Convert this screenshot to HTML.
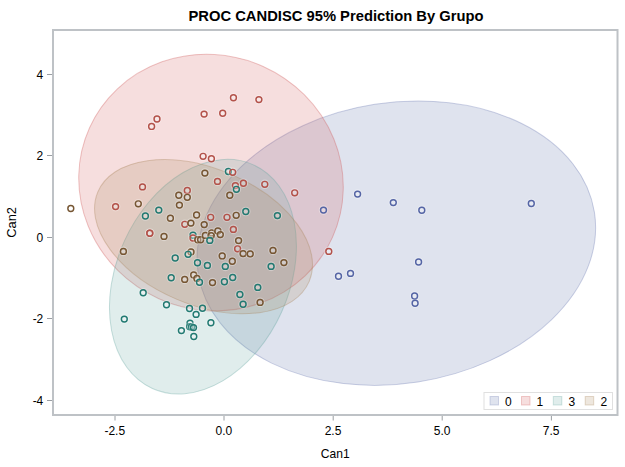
<!DOCTYPE html>
<html><head><meta charset="utf-8">
<style>
html,body{margin:0;padding:0;background:#fff;width:625px;height:467px;overflow:hidden}
svg{display:block}
text{font-family:"Liberation Sans",sans-serif;fill:#000}
</style></head><body>
<svg width="625" height="467" viewBox="0 0 625 467">
<text transform="translate(336 20.6) scale(0.958 1)" text-anchor="middle" style="font-weight:bold;font-size:15.4px">PROC CANDISC 95% Prediction By Grupo</text>
<g id="ell" stroke-width="1">
<ellipse cx="396.35" cy="243.17" rx="200.47" ry="140.48" transform="rotate(351.17 396.35 243.17)" fill="#6F7EB3" fill-opacity="0.22" stroke="#6F7EB3" stroke-opacity="0.36"/>
<ellipse cx="211.00" cy="182.56" rx="127.30" ry="133.25" transform="rotate(294.19 211.00 182.56)" fill="#D05B5B" fill-opacity="0.2" stroke="#D05B5B" stroke-opacity="0.36"/>
<ellipse cx="202.93" cy="276.68" rx="86.27" ry="122.71" transform="rotate(204.35 202.93 276.68)" fill="#66A5A0" fill-opacity="0.2" stroke="#66A5A0" stroke-opacity="0.36"/>
<ellipse cx="203.53" cy="236.65" rx="114.77" ry="68.12" transform="rotate(22.93 203.53 236.65)" fill="#A9865B" fill-opacity="0.2" stroke="#A9865B" stroke-opacity="0.36"/>
</g>
<g id="marks" fill="none" stroke-width="1.45">
<circle cx="151.6" cy="126.4" r="4.2" stroke="#fff" stroke-opacity="0.3" stroke-width="1.2"/><circle cx="151.6" cy="126.4" r="2.95" fill="#fff" fill-opacity="0.3" stroke="#b3524a"/>
<circle cx="157.0" cy="119.0" r="4.2" stroke="#fff" stroke-opacity="0.3" stroke-width="1.2"/><circle cx="157.0" cy="119.0" r="2.95" fill="#fff" fill-opacity="0.3" stroke="#b3524a"/>
<circle cx="204.1" cy="114.1" r="4.2" stroke="#fff" stroke-opacity="0.3" stroke-width="1.2"/><circle cx="204.1" cy="114.1" r="2.95" fill="#fff" fill-opacity="0.3" stroke="#b3524a"/>
<circle cx="222.7" cy="113.2" r="4.2" stroke="#fff" stroke-opacity="0.3" stroke-width="1.2"/><circle cx="222.7" cy="113.2" r="2.95" fill="#fff" fill-opacity="0.3" stroke="#b3524a"/>
<circle cx="233.45" cy="97.7" r="4.2" stroke="#fff" stroke-opacity="0.3" stroke-width="1.2"/><circle cx="233.45" cy="97.7" r="2.95" fill="#fff" fill-opacity="0.3" stroke="#b3524a"/>
<circle cx="258.9" cy="99.6" r="4.2" stroke="#fff" stroke-opacity="0.3" stroke-width="1.2"/><circle cx="258.9" cy="99.6" r="2.95" fill="#fff" fill-opacity="0.3" stroke="#b3524a"/>
<circle cx="142.5" cy="186.9" r="4.2" stroke="#fff" stroke-opacity="0.3" stroke-width="1.2"/><circle cx="142.5" cy="186.9" r="2.95" fill="#fff" fill-opacity="0.3" stroke="#b3524a"/>
<circle cx="138.3" cy="203.8" r="4.2" stroke="#fff" stroke-opacity="0.3" stroke-width="1.2"/><circle cx="138.3" cy="203.8" r="2.95" fill="#fff" fill-opacity="0.3" stroke="#765633"/>
<circle cx="115.6" cy="206.6" r="4.2" stroke="#fff" stroke-opacity="0.3" stroke-width="1.2"/><circle cx="115.6" cy="206.6" r="2.95" fill="#fff" fill-opacity="0.3" stroke="#b3524a"/>
<circle cx="70.8" cy="208.5" r="4.2" stroke="#fff" stroke-opacity="0.3" stroke-width="1.2"/><circle cx="70.8" cy="208.5" r="2.95" fill="#fff" fill-opacity="0.3" stroke="#765633"/>
<circle cx="203.1" cy="156.3" r="4.2" stroke="#fff" stroke-opacity="0.3" stroke-width="1.2"/><circle cx="203.1" cy="156.3" r="2.95" fill="#fff" fill-opacity="0.3" stroke="#b3524a"/>
<circle cx="211.4" cy="158.7" r="4.2" stroke="#fff" stroke-opacity="0.3" stroke-width="1.2"/><circle cx="211.4" cy="158.7" r="2.95" fill="#fff" fill-opacity="0.3" stroke="#b3524a"/>
<circle cx="204.9" cy="173.1" r="4.2" stroke="#fff" stroke-opacity="0.3" stroke-width="1.2"/><circle cx="204.9" cy="173.1" r="2.95" fill="#fff" fill-opacity="0.3" stroke="#765633"/>
<circle cx="228.4" cy="171.5" r="4.2" stroke="#fff" stroke-opacity="0.3" stroke-width="1.2"/><circle cx="228.4" cy="171.5" r="2.95" fill="#fff" fill-opacity="0.3" stroke="#227a72"/>
<circle cx="232.7" cy="172.3" r="4.2" stroke="#fff" stroke-opacity="0.3" stroke-width="1.2"/><circle cx="232.7" cy="172.3" r="2.95" fill="#fff" fill-opacity="0.3" stroke="#b3524a"/>
<circle cx="217.5" cy="181.4" r="4.2" stroke="#fff" stroke-opacity="0.3" stroke-width="1.2"/><circle cx="217.5" cy="181.4" r="2.95" fill="#fff" fill-opacity="0.3" stroke="#b3524a"/>
<circle cx="243.4" cy="183.2" r="4.2" stroke="#fff" stroke-opacity="0.3" stroke-width="1.2"/><circle cx="243.4" cy="183.2" r="2.95" fill="#fff" fill-opacity="0.3" stroke="#b3524a"/>
<circle cx="235.4" cy="185.6" r="4.2" stroke="#fff" stroke-opacity="0.3" stroke-width="1.2"/><circle cx="235.4" cy="185.6" r="2.95" fill="#fff" fill-opacity="0.3" stroke="#b3524a"/>
<circle cx="236.4" cy="189.3" r="4.2" stroke="#fff" stroke-opacity="0.3" stroke-width="1.2"/><circle cx="236.4" cy="189.3" r="2.95" fill="#fff" fill-opacity="0.3" stroke="#227a72"/>
<circle cx="229.8" cy="195.2" r="4.2" stroke="#fff" stroke-opacity="0.3" stroke-width="1.2"/><circle cx="229.8" cy="195.2" r="2.95" fill="#fff" fill-opacity="0.3" stroke="#765633"/>
<circle cx="187.3" cy="190.5" r="4.2" stroke="#fff" stroke-opacity="0.3" stroke-width="1.2"/><circle cx="187.3" cy="190.5" r="2.95" fill="#fff" fill-opacity="0.3" stroke="#b3524a"/>
<circle cx="178.8" cy="195.2" r="4.2" stroke="#fff" stroke-opacity="0.3" stroke-width="1.2"/><circle cx="178.8" cy="195.2" r="2.95" fill="#fff" fill-opacity="0.3" stroke="#765633"/>
<circle cx="187.3" cy="197.3" r="4.2" stroke="#fff" stroke-opacity="0.3" stroke-width="1.2"/><circle cx="187.3" cy="197.3" r="2.95" fill="#fff" fill-opacity="0.3" stroke="#765633"/>
<circle cx="264.8" cy="184.3" r="4.2" stroke="#fff" stroke-opacity="0.3" stroke-width="1.2"/><circle cx="264.8" cy="184.3" r="2.95" fill="#fff" fill-opacity="0.3" stroke="#b3524a"/>
<circle cx="294.7" cy="192.8" r="4.2" stroke="#fff" stroke-opacity="0.3" stroke-width="1.2"/><circle cx="294.7" cy="192.8" r="2.95" fill="#fff" fill-opacity="0.3" stroke="#b3524a"/>
<circle cx="323.5" cy="210.1" r="4.2" stroke="#fff" stroke-opacity="0.3" stroke-width="1.2"/><circle cx="323.5" cy="210.1" r="2.95" fill="#fff" fill-opacity="0.3" stroke="#5565a5"/>
<circle cx="357.6" cy="194.1" r="4.2" stroke="#fff" stroke-opacity="0.3" stroke-width="1.2"/><circle cx="357.6" cy="194.1" r="2.95" fill="#fff" fill-opacity="0.3" stroke="#5565a5"/>
<circle cx="393.3" cy="202.6" r="4.2" stroke="#fff" stroke-opacity="0.3" stroke-width="1.2"/><circle cx="393.3" cy="202.6" r="2.95" fill="#fff" fill-opacity="0.3" stroke="#5565a5"/>
<circle cx="421.8" cy="210.2" r="4.2" stroke="#fff" stroke-opacity="0.3" stroke-width="1.2"/><circle cx="421.8" cy="210.2" r="2.95" fill="#fff" fill-opacity="0.3" stroke="#5565a5"/>
<circle cx="531.3" cy="203.5" r="4.2" stroke="#fff" stroke-opacity="0.3" stroke-width="1.2"/><circle cx="531.3" cy="203.5" r="2.95" fill="#fff" fill-opacity="0.3" stroke="#5565a5"/>
<circle cx="338.5" cy="276.3" r="4.2" stroke="#fff" stroke-opacity="0.3" stroke-width="1.2"/><circle cx="338.5" cy="276.3" r="2.95" fill="#fff" fill-opacity="0.3" stroke="#5565a5"/>
<circle cx="350.5" cy="273.4" r="4.2" stroke="#fff" stroke-opacity="0.3" stroke-width="1.2"/><circle cx="350.5" cy="273.4" r="2.95" fill="#fff" fill-opacity="0.3" stroke="#5565a5"/>
<circle cx="418.6" cy="262.0" r="4.2" stroke="#fff" stroke-opacity="0.3" stroke-width="1.2"/><circle cx="418.6" cy="262.0" r="2.95" fill="#fff" fill-opacity="0.3" stroke="#5565a5"/>
<circle cx="414.6" cy="296.0" r="4.2" stroke="#fff" stroke-opacity="0.3" stroke-width="1.2"/><circle cx="414.6" cy="296.0" r="2.95" fill="#fff" fill-opacity="0.3" stroke="#5565a5"/>
<circle cx="415.1" cy="303.2" r="4.2" stroke="#fff" stroke-opacity="0.3" stroke-width="1.2"/><circle cx="415.1" cy="303.2" r="2.95" fill="#fff" fill-opacity="0.3" stroke="#5565a5"/>
<circle cx="328.8" cy="251.4" r="4.2" stroke="#fff" stroke-opacity="0.3" stroke-width="1.2"/><circle cx="328.8" cy="251.4" r="2.95" fill="#fff" fill-opacity="0.3" stroke="#b3524a"/>
<circle cx="158.8" cy="210.1" r="4.2" stroke="#fff" stroke-opacity="0.3" stroke-width="1.2"/><circle cx="158.8" cy="210.1" r="2.95" fill="#fff" fill-opacity="0.3" stroke="#227a72"/>
<circle cx="145.4" cy="216.0" r="4.2" stroke="#fff" stroke-opacity="0.3" stroke-width="1.2"/><circle cx="145.4" cy="216.0" r="2.95" fill="#fff" fill-opacity="0.3" stroke="#227a72"/>
<circle cx="170.4" cy="218.2" r="4.2" stroke="#fff" stroke-opacity="0.3" stroke-width="1.2"/><circle cx="170.4" cy="218.2" r="2.95" fill="#fff" fill-opacity="0.3" stroke="#765633"/>
<circle cx="179.4" cy="205.1" r="4.2" stroke="#fff" stroke-opacity="0.3" stroke-width="1.2"/><circle cx="179.4" cy="205.1" r="2.95" fill="#fff" fill-opacity="0.3" stroke="#765633"/>
<circle cx="149.8" cy="233.2" r="4.2" stroke="#fff" stroke-opacity="0.3" stroke-width="1.2"/><circle cx="149.8" cy="233.2" r="2.95" fill="#fff" fill-opacity="0.3" stroke="#b3524a"/>
<circle cx="149.8" cy="233.2" r="4.2" stroke="#fff" stroke-opacity="0.3" stroke-width="1.2"/><circle cx="149.8" cy="233.2" r="2.95" fill="#fff" fill-opacity="0.3" stroke="#b3524a"/>
<circle cx="164.0" cy="236.4" r="4.2" stroke="#fff" stroke-opacity="0.3" stroke-width="1.2"/><circle cx="164.0" cy="236.4" r="2.95" fill="#fff" fill-opacity="0.3" stroke="#765633"/>
<circle cx="196.6" cy="215.0" r="4.2" stroke="#fff" stroke-opacity="0.3" stroke-width="1.2"/><circle cx="196.6" cy="215.0" r="2.95" fill="#fff" fill-opacity="0.3" stroke="#765633"/>
<circle cx="184.8" cy="224.3" r="4.2" stroke="#fff" stroke-opacity="0.3" stroke-width="1.2"/><circle cx="184.8" cy="224.3" r="2.95" fill="#fff" fill-opacity="0.3" stroke="#b3524a"/>
<circle cx="190.9" cy="223.1" r="4.2" stroke="#fff" stroke-opacity="0.3" stroke-width="1.2"/><circle cx="190.9" cy="223.1" r="2.95" fill="#fff" fill-opacity="0.3" stroke="#765633"/>
<circle cx="204.2" cy="224.6" r="4.2" stroke="#fff" stroke-opacity="0.3" stroke-width="1.2"/><circle cx="204.2" cy="224.6" r="2.95" fill="#fff" fill-opacity="0.3" stroke="#765633"/>
<circle cx="210.7" cy="217.3" r="4.2" stroke="#fff" stroke-opacity="0.3" stroke-width="1.2"/><circle cx="210.7" cy="217.3" r="2.95" fill="#fff" fill-opacity="0.3" stroke="#b3524a"/>
<circle cx="245.8" cy="211.5" r="4.2" stroke="#fff" stroke-opacity="0.3" stroke-width="1.2"/><circle cx="245.8" cy="211.5" r="2.95" fill="#fff" fill-opacity="0.3" stroke="#227a72"/>
<circle cx="227.0" cy="217.3" r="4.2" stroke="#fff" stroke-opacity="0.3" stroke-width="1.2"/><circle cx="227.0" cy="217.3" r="2.95" fill="#fff" fill-opacity="0.3" stroke="#b3524a"/>
<circle cx="236.2" cy="215.3" r="4.2" stroke="#fff" stroke-opacity="0.3" stroke-width="1.2"/><circle cx="236.2" cy="215.3" r="2.95" fill="#fff" fill-opacity="0.3" stroke="#765633"/>
<circle cx="233.35" cy="229.4" r="4.2" stroke="#fff" stroke-opacity="0.3" stroke-width="1.2"/><circle cx="233.35" cy="229.4" r="2.95" fill="#fff" fill-opacity="0.3" stroke="#b3524a"/>
<circle cx="193.0" cy="235.2" r="4.2" stroke="#fff" stroke-opacity="0.3" stroke-width="1.2"/><circle cx="193.0" cy="235.2" r="2.95" fill="#fff" fill-opacity="0.3" stroke="#227a72"/>
<circle cx="193.0" cy="238.0" r="4.2" stroke="#fff" stroke-opacity="0.3" stroke-width="1.2"/><circle cx="193.0" cy="238.0" r="2.95" fill="#fff" fill-opacity="0.3" stroke="#b3524a"/>
<circle cx="197.8" cy="239.7" r="4.2" stroke="#fff" stroke-opacity="0.3" stroke-width="1.2"/><circle cx="197.8" cy="239.7" r="2.95" fill="#fff" fill-opacity="0.3" stroke="#765633"/>
<circle cx="200.6" cy="239.7" r="4.2" stroke="#fff" stroke-opacity="0.3" stroke-width="1.2"/><circle cx="200.6" cy="239.7" r="2.95" fill="#fff" fill-opacity="0.3" stroke="#765633"/>
<circle cx="205.4" cy="235.4" r="4.2" stroke="#fff" stroke-opacity="0.3" stroke-width="1.2"/><circle cx="205.4" cy="235.4" r="2.95" fill="#fff" fill-opacity="0.3" stroke="#765633"/>
<circle cx="211.7" cy="233.0" r="4.2" stroke="#fff" stroke-opacity="0.3" stroke-width="1.2"/><circle cx="211.7" cy="233.0" r="2.95" fill="#fff" fill-opacity="0.3" stroke="#765633"/>
<circle cx="211.2" cy="235.6" r="4.2" stroke="#fff" stroke-opacity="0.3" stroke-width="1.2"/><circle cx="211.2" cy="235.6" r="2.95" fill="#fff" fill-opacity="0.3" stroke="#765633"/>
<circle cx="217.9" cy="231.0" r="4.2" stroke="#fff" stroke-opacity="0.3" stroke-width="1.2"/><circle cx="217.9" cy="231.0" r="2.95" fill="#fff" fill-opacity="0.3" stroke="#765633"/>
<circle cx="220.3" cy="234.6" r="4.2" stroke="#fff" stroke-opacity="0.3" stroke-width="1.2"/><circle cx="220.3" cy="234.6" r="2.95" fill="#fff" fill-opacity="0.3" stroke="#765633"/>
<circle cx="209.8" cy="240.4" r="4.2" stroke="#fff" stroke-opacity="0.3" stroke-width="1.2"/><circle cx="209.8" cy="240.4" r="2.95" fill="#fff" fill-opacity="0.3" stroke="#227a72"/>
<circle cx="238.6" cy="240.6" r="4.2" stroke="#fff" stroke-opacity="0.3" stroke-width="1.2"/><circle cx="238.6" cy="240.6" r="2.95" fill="#fff" fill-opacity="0.3" stroke="#765633"/>
<circle cx="237.6" cy="248.8" r="4.2" stroke="#fff" stroke-opacity="0.3" stroke-width="1.2"/><circle cx="237.6" cy="248.8" r="2.95" fill="#fff" fill-opacity="0.3" stroke="#b3524a"/>
<circle cx="191.0" cy="251.9" r="4.2" stroke="#fff" stroke-opacity="0.3" stroke-width="1.2"/><circle cx="191.0" cy="251.9" r="2.95" fill="#fff" fill-opacity="0.3" stroke="#765633"/>
<circle cx="188.1" cy="254.3" r="4.2" stroke="#fff" stroke-opacity="0.3" stroke-width="1.2"/><circle cx="188.1" cy="254.3" r="2.95" fill="#fff" fill-opacity="0.3" stroke="#227a72"/>
<circle cx="222.2" cy="255.9" r="4.2" stroke="#fff" stroke-opacity="0.3" stroke-width="1.2"/><circle cx="222.2" cy="255.9" r="2.95" fill="#fff" fill-opacity="0.3" stroke="#765633"/>
<circle cx="123.4" cy="251.4" r="4.2" stroke="#fff" stroke-opacity="0.3" stroke-width="1.2"/><circle cx="123.4" cy="251.4" r="2.95" fill="#fff" fill-opacity="0.3" stroke="#765633"/>
<circle cx="175.2" cy="258.0" r="4.2" stroke="#fff" stroke-opacity="0.3" stroke-width="1.2"/><circle cx="175.2" cy="258.0" r="2.95" fill="#fff" fill-opacity="0.3" stroke="#227a72"/>
<circle cx="171.2" cy="277.8" r="4.2" stroke="#fff" stroke-opacity="0.3" stroke-width="1.2"/><circle cx="171.2" cy="277.8" r="2.95" fill="#fff" fill-opacity="0.3" stroke="#227a72"/>
<circle cx="197.5" cy="262.8" r="4.2" stroke="#fff" stroke-opacity="0.3" stroke-width="1.2"/><circle cx="197.5" cy="262.8" r="2.95" fill="#fff" fill-opacity="0.3" stroke="#227a72"/>
<circle cx="207.4" cy="265.4" r="4.2" stroke="#fff" stroke-opacity="0.3" stroke-width="1.2"/><circle cx="207.4" cy="265.4" r="2.95" fill="#fff" fill-opacity="0.3" stroke="#227a72"/>
<circle cx="232.3" cy="261.3" r="4.2" stroke="#fff" stroke-opacity="0.3" stroke-width="1.2"/><circle cx="232.3" cy="261.3" r="2.95" fill="#fff" fill-opacity="0.3" stroke="#765633"/>
<circle cx="243.1" cy="253.6" r="4.2" stroke="#fff" stroke-opacity="0.3" stroke-width="1.2"/><circle cx="243.1" cy="253.6" r="2.95" fill="#fff" fill-opacity="0.3" stroke="#765633"/>
<circle cx="250.2" cy="253.9" r="4.2" stroke="#fff" stroke-opacity="0.3" stroke-width="1.2"/><circle cx="250.2" cy="253.9" r="2.95" fill="#fff" fill-opacity="0.3" stroke="#765633"/>
<circle cx="225.3" cy="266.4" r="4.2" stroke="#fff" stroke-opacity="0.3" stroke-width="1.2"/><circle cx="225.3" cy="266.4" r="2.95" fill="#fff" fill-opacity="0.3" stroke="#227a72"/>
<circle cx="184.7" cy="279.4" r="4.2" stroke="#fff" stroke-opacity="0.3" stroke-width="1.2"/><circle cx="184.7" cy="279.4" r="2.95" fill="#fff" fill-opacity="0.3" stroke="#765633"/>
<circle cx="193.7" cy="275.0" r="4.2" stroke="#fff" stroke-opacity="0.3" stroke-width="1.2"/><circle cx="193.7" cy="275.0" r="2.95" fill="#fff" fill-opacity="0.3" stroke="#765633"/>
<circle cx="196.9" cy="278.4" r="4.2" stroke="#fff" stroke-opacity="0.3" stroke-width="1.2"/><circle cx="196.9" cy="278.4" r="2.95" fill="#fff" fill-opacity="0.3" stroke="#765633"/>
<circle cx="199.5" cy="282.3" r="4.2" stroke="#fff" stroke-opacity="0.3" stroke-width="1.2"/><circle cx="199.5" cy="282.3" r="2.95" fill="#fff" fill-opacity="0.3" stroke="#227a72"/>
<circle cx="212.5" cy="282.6" r="4.2" stroke="#fff" stroke-opacity="0.3" stroke-width="1.2"/><circle cx="212.5" cy="282.6" r="2.95" fill="#fff" fill-opacity="0.3" stroke="#765633"/>
<circle cx="224.4" cy="281.7" r="4.2" stroke="#fff" stroke-opacity="0.3" stroke-width="1.2"/><circle cx="224.4" cy="281.7" r="2.95" fill="#fff" fill-opacity="0.3" stroke="#227a72"/>
<circle cx="232.7" cy="277.5" r="4.2" stroke="#fff" stroke-opacity="0.3" stroke-width="1.2"/><circle cx="232.7" cy="277.5" r="2.95" fill="#fff" fill-opacity="0.3" stroke="#227a72"/>
<circle cx="239.9" cy="294.5" r="4.2" stroke="#fff" stroke-opacity="0.3" stroke-width="1.2"/><circle cx="239.9" cy="294.5" r="2.95" fill="#fff" fill-opacity="0.3" stroke="#227a72"/>
<circle cx="277.4" cy="215.6" r="4.2" stroke="#fff" stroke-opacity="0.3" stroke-width="1.2"/><circle cx="277.4" cy="215.6" r="2.95" fill="#fff" fill-opacity="0.3" stroke="#227a72"/>
<circle cx="273.0" cy="250.4" r="4.2" stroke="#fff" stroke-opacity="0.3" stroke-width="1.2"/><circle cx="273.0" cy="250.4" r="2.95" fill="#fff" fill-opacity="0.3" stroke="#765633"/>
<circle cx="283.9" cy="262.6" r="4.2" stroke="#fff" stroke-opacity="0.3" stroke-width="1.2"/><circle cx="283.9" cy="262.6" r="2.95" fill="#fff" fill-opacity="0.3" stroke="#765633"/>
<circle cx="271.1" cy="266.4" r="4.2" stroke="#fff" stroke-opacity="0.3" stroke-width="1.2"/><circle cx="271.1" cy="266.4" r="2.95" fill="#fff" fill-opacity="0.3" stroke="#227a72"/>
<circle cx="257.8" cy="287.4" r="4.2" stroke="#fff" stroke-opacity="0.3" stroke-width="1.2"/><circle cx="257.8" cy="287.4" r="2.95" fill="#fff" fill-opacity="0.3" stroke="#227a72"/>
<circle cx="243.1" cy="304.3" r="4.2" stroke="#fff" stroke-opacity="0.3" stroke-width="1.2"/><circle cx="243.1" cy="304.3" r="2.95" fill="#fff" fill-opacity="0.3" stroke="#227a72"/>
<circle cx="260.1" cy="302.4" r="4.2" stroke="#fff" stroke-opacity="0.3" stroke-width="1.2"/><circle cx="260.1" cy="302.4" r="2.95" fill="#fff" fill-opacity="0.3" stroke="#765633"/>
<circle cx="202.5" cy="308.2" r="4.2" stroke="#fff" stroke-opacity="0.3" stroke-width="1.2"/><circle cx="202.5" cy="308.2" r="2.95" fill="#fff" fill-opacity="0.3" stroke="#227a72"/>
<circle cx="189.5" cy="308.5" r="4.2" stroke="#fff" stroke-opacity="0.3" stroke-width="1.2"/><circle cx="189.5" cy="308.5" r="2.95" fill="#fff" fill-opacity="0.3" stroke="#227a72"/>
<circle cx="196.1" cy="314.4" r="4.2" stroke="#fff" stroke-opacity="0.3" stroke-width="1.2"/><circle cx="196.1" cy="314.4" r="2.95" fill="#fff" fill-opacity="0.3" stroke="#227a72"/>
<circle cx="210.9" cy="322.8" r="4.2" stroke="#fff" stroke-opacity="0.3" stroke-width="1.2"/><circle cx="210.9" cy="322.8" r="2.95" fill="#fff" fill-opacity="0.3" stroke="#227a72"/>
<circle cx="143.2" cy="292.8" r="4.2" stroke="#fff" stroke-opacity="0.3" stroke-width="1.2"/><circle cx="143.2" cy="292.8" r="2.95" fill="#fff" fill-opacity="0.3" stroke="#227a72"/>
<circle cx="166.5" cy="304.8" r="4.2" stroke="#fff" stroke-opacity="0.3" stroke-width="1.2"/><circle cx="166.5" cy="304.8" r="2.95" fill="#fff" fill-opacity="0.3" stroke="#227a72"/>
<circle cx="124.3" cy="319.1" r="4.2" stroke="#fff" stroke-opacity="0.3" stroke-width="1.2"/><circle cx="124.3" cy="319.1" r="2.95" fill="#fff" fill-opacity="0.3" stroke="#227a72"/>
<circle cx="190.0" cy="323.3" r="4.2" stroke="#fff" stroke-opacity="0.3" stroke-width="1.2"/><circle cx="190.0" cy="323.3" r="2.95" fill="#fff" fill-opacity="0.3" stroke="#227a72"/>
<circle cx="189.7" cy="326.8" r="4.2" stroke="#fff" stroke-opacity="0.3" stroke-width="1.2"/><circle cx="189.7" cy="326.8" r="2.95" fill="#fff" fill-opacity="0.3" stroke="#227a72"/>
<circle cx="191.6" cy="327.0" r="4.2" stroke="#fff" stroke-opacity="0.3" stroke-width="1.2"/><circle cx="191.6" cy="327.0" r="2.95" fill="#fff" fill-opacity="0.3" stroke="#227a72"/>
<circle cx="193.5" cy="327.6" r="4.2" stroke="#fff" stroke-opacity="0.3" stroke-width="1.2"/><circle cx="193.5" cy="327.6" r="2.95" fill="#fff" fill-opacity="0.3" stroke="#227a72"/>
<circle cx="181.4" cy="330.6" r="4.2" stroke="#fff" stroke-opacity="0.3" stroke-width="1.2"/><circle cx="181.4" cy="330.6" r="2.95" fill="#fff" fill-opacity="0.3" stroke="#227a72"/>
<circle cx="193.8" cy="336.5" r="4.2" stroke="#fff" stroke-opacity="0.3" stroke-width="1.2"/><circle cx="193.8" cy="336.5" r="2.95" fill="#fff" fill-opacity="0.3" stroke="#227a72"/>
</g>
<!-- frame -->
<rect x="53" y="30" width="564.5" height="385" fill="none" stroke="#BEC2C6" stroke-width="2"/>
<g stroke="#9a9ea3" stroke-width="1">
<line x1="47" y1="74.5" x2="52" y2="74.5"/>
<line x1="47" y1="155.5" x2="52" y2="155.5"/>
<line x1="47" y1="237.5" x2="52" y2="237.5"/>
<line x1="47" y1="318.5" x2="52" y2="318.5"/>
<line x1="47" y1="400.5" x2="52" y2="400.5"/>
<line x1="115" y1="416" x2="115" y2="420.5"/>
<line x1="224" y1="416" x2="224" y2="420.5"/>
<line x1="333.2" y1="416" x2="333.2" y2="420.5"/>
<line x1="442.2" y1="416" x2="442.2" y2="420.5"/>
<line x1="551.4" y1="416" x2="551.4" y2="420.5"/>
</g>
<g style="font-size:12px" fill="#000">
<text x="43.3" y="78.5" text-anchor="end">4</text>
<text x="43.3" y="160" text-anchor="end">2</text>
<text x="43.3" y="241.5" text-anchor="end">0</text>
<text x="43.3" y="323" text-anchor="end">-2</text>
<text x="43.3" y="404.5" text-anchor="end">-4</text>
<text x="114.8" y="435" text-anchor="middle">-2.5</text>
<text x="223.9" y="435" text-anchor="middle">0.0</text>
<text x="333" y="435" text-anchor="middle">2.5</text>
<text x="442.1" y="435" text-anchor="middle">5.0</text>
<text x="551.2" y="435" text-anchor="middle">7.5</text>
<text transform="translate(335.2 457.5) scale(0.9 1)" text-anchor="middle" style="font-size:13.4px">Can1</text>
<text transform="translate(16.4 222.4) rotate(-90) scale(0.96 1)" text-anchor="middle" style="font-size:13.4px">Can2</text>
</g>
<!-- legend -->
<rect x="484" y="392.5" width="128.5" height="17" fill="#fff" stroke="#e0e0e0" stroke-width="1"/>
<g stroke-width="1">
<rect x="490" y="396.5" width="8.5" height="8.5" fill="#6F7EB3" fill-opacity="0.22" stroke="#6F7EB3" stroke-opacity="0.3"/>
<rect x="521.5" y="396.5" width="8.5" height="8.5" fill="#D05B5B" fill-opacity="0.2" stroke="#D05B5B" stroke-opacity="0.3"/>
<rect x="553.3" y="396.5" width="8.5" height="8.5" fill="#66A5A0" fill-opacity="0.2" stroke="#66A5A0" stroke-opacity="0.3"/>
<rect x="585.2" y="396.5" width="8.5" height="8.5" fill="#A9865B" fill-opacity="0.2" stroke="#A9865B" stroke-opacity="0.3"/>
</g>
<g style="font-size:12px">
<text x="505" y="405.5">0</text>
<text x="536.5" y="405.5">1</text>
<text x="568.5" y="405.5">3</text>
<text x="600.5" y="405.5">2</text>
</g>
</svg>
</body></html>
